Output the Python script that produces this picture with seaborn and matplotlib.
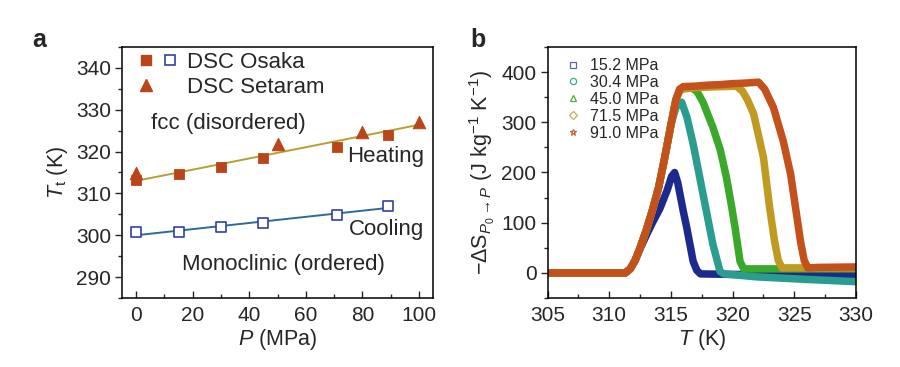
import numpy as np
import pandas as pd
import matplotlib
matplotlib.use('Agg')
import matplotlib.pyplot as plt
import seaborn as sns
from matplotlib.lines import Line2D
from matplotlib.legend_handler import HandlerTuple
from matplotlib.ticker import MultipleLocator

# ---- panel a: transition temperature vs pressure ----
osaka_heat_p = [0, 15, 30, 45, 71, 89]
osaka_heat_t = [313.3, 314.7, 316.2, 318.5, 321.2, 324.0]
setaram_heat_p = [0, 50, 80, 100]
setaram_heat_t = [314.9, 321.9, 324.7, 327.1]
osaka_cool_p = [0, 15, 30, 45, 71, 89]
osaka_cool_t = [300.8, 300.8, 302.0, 303.0, 304.8, 307.0]
heat_fit_p = [0, 100]
heat_fit_t = [313.0, 326.4]
cool_fit_p = [0, 90]
cool_fit_t = [300.0, 306.6]

# ---- panel b: entropy change curves ----
pressures = ['15.2 MPa', '30.4 MPa', '45.0 MPa', '71.5 MPa', '91.0 MPa']
t_152 = [304.5, 311.3, 311.7, 312.1, 312.5, 313.0, 313.5, 314.1, 314.7, 315.05, 315.3, 315.55, 316.0, 316.3, 316.8, 317.1, 317.4, 320, 325, 330.5]
s_152 = [0, 0, 8, 25, 48, 75, 100, 128, 165, 192, 200, 180, 123, 88, 23, 5, -2, -3, -4, -5]
t_304 = [304.5, 311.3, 311.7, 312.1, 312.5, 313.0, 313.5, 314.0, 314.5, 315.0, 315.4, 315.87, 316.3, 316.8, 317.6, 318.4, 318.98, 319.3, 322, 326, 330.5]
s_304 = [0, 0, 8, 25, 50, 85, 125, 170, 230, 295, 330, 340, 310, 257, 157, 57, 3, -2, -8, -13, -18]
t_450 = [304.5, 311.3, 311.7, 312.1, 312.5, 313.0, 313.5, 314.0, 314.5, 315.0, 315.4, 315.7, 316.0, 316.7, 317.1, 317.6, 318.4, 319.0, 319.5, 319.9, 320.2, 320.6, 320.9, 330.5]
s_450 = [0, 0, 8, 25, 50, 85, 125, 170, 230, 295, 345, 362, 367, 368, 362, 340, 290, 245, 190, 135, 90, 23, 8, 8]
t_715 = [304.5, 311.3, 311.7, 312.1, 312.5, 313.0, 313.5, 314.0, 314.5, 315.0, 315.4, 315.7, 316.0, 317, 318, 319, 320.3, 320.8, 321.2, 321.7, 322.5, 323.0, 323.4, 323.7, 324.0, 330.5]
s_715 = [0, 0, 8, 25, 50, 85, 125, 170, 230, 295, 345, 362, 367, 369, 370, 371, 372, 362, 345, 317, 230, 130, 63, 25, 10, 10]
t_910 = [304.5, 311.3, 311.7, 312.1, 312.5, 313.0, 313.5, 314.0, 314.5, 315.0, 315.4, 315.7, 316.0, 317, 318, 319, 320, 321, 322.1, 322.6, 323.3, 324.1, 324.7, 325.1, 325.5, 325.8, 326.1, 327, 330.5]
s_910 = [0, 0, 8, 25, 50, 85, 125, 170, 230, 295, 345, 366, 371, 372, 374, 375, 377, 378, 380, 366, 330, 263, 197, 130, 63, 25, 10, 11, 12]
curve_colors = ['#1c2a8e', '#2a9d8f', '#3aa828', '#c09a22', '#c4501c']
legend_colors = ['#5a6aa8', '#3aa8a0', '#4caf3a', '#d0a860', '#c8603a']
legend_markers = ['s', 'o', '^', 'D', '*']

sns.set_theme(style='ticks')
plt.rcParams['font.family'] = ['Liberation Sans', 'DejaVu Sans']
plt.rcParams['mathtext.fontset'] = 'custom'
plt.rcParams['mathtext.rm'] = 'Liberation Sans'
plt.rcParams['mathtext.it'] = 'Liberation Sans:italic'
plt.rcParams['axes.linewidth'] = 1.1

fig = plt.figure(figsize=(9, 3.67), dpi=100)
ax_a = fig.add_axes([0.1356, 0.188, 0.3456, 0.684])
ax_b = fig.add_axes([0.6084, 0.188, 0.3427, 0.684])

orange = '#b8461a'
blue_sq = '#3340a0'

sns.lineplot(x=heat_fit_p, y=heat_fit_t, ax=ax_a, color='#b8a030', linewidth=1.4)
sns.lineplot(x=cool_fit_p, y=cool_fit_t, ax=ax_a, color='#2b6c9a', linewidth=1.4)
sns.scatterplot(x=osaka_heat_p, y=osaka_heat_t, ax=ax_a, marker='s', s=55,
                color=orange, edgecolor=orange, zorder=3)
sns.scatterplot(x=setaram_heat_p, y=setaram_heat_t, ax=ax_a, marker='^', s=80,
                color=orange, edgecolor=orange, zorder=3)
sns.scatterplot(x=osaka_cool_p, y=osaka_cool_t, ax=ax_a, marker='s', s=55,
                facecolor='white', edgecolor=blue_sq, linewidth=1.2, zorder=3)

ax_a.set_xlim(-5, 105)
ax_a.set_ylim(285, 345)
ax_a.xaxis.set_major_locator(MultipleLocator(20))
ax_a.xaxis.set_minor_locator(MultipleLocator(10))
ax_a.yaxis.set_major_locator(MultipleLocator(10))
ax_a.yaxis.set_minor_locator(MultipleLocator(5))
ax_a.set_yticks([290, 300, 310, 320, 330, 340])
ax_a.set_xlabel(r'$P$ (MPa)', fontsize=15.5, labelpad=1)
ax_a.set_ylabel(r'$T_{\mathrm{t}}$ (K)', fontsize=15.5, labelpad=4)

ax_a.text(32.5, 326.6, 'fcc (disordered)', fontsize=16, ha='center', va='center')
ax_a.text(102, 318.9, 'Heating', fontsize=16, ha='right', va='center')
ax_a.text(102, 301.3, 'Cooling', fontsize=16, ha='right', va='center')
ax_a.text(52, 293.1, 'Monoclinic (ordered)', fontsize=16, ha='center', va='center')

h_fill = Line2D([], [], ls='none', marker='s', ms=7, color=orange)
h_open = Line2D([], [], ls='none', marker='s', ms=7, mfc='white', mec=blue_sq, mew=1.2)
h_tri = Line2D([], [], ls='none', marker='^', ms=8, color=orange)
h_none = Line2D([], [], ls='none')
ax_a.legend([(h_fill, h_open), (h_tri, h_none)], ['DSC Osaka', 'DSC Setaram'],
            handler_map={tuple: HandlerTuple(ndivide=None, pad=0.3)},
            loc='upper left', bbox_to_anchor=(0.005, 1.035), frameon=False, fontsize=16,
            handlelength=1.9, handletextpad=0.35, labelspacing=0.2, borderaxespad=0.2)

# panel b
frames = []
for lab, t, s in zip(pressures, [t_152, t_304, t_450, t_715, t_910],
                     [s_152, s_304, s_450, s_715, s_910]):
    frames.append(pd.DataFrame({'T': t, 'S': s, 'P': lab}))
curves = pd.concat(frames, ignore_index=True)
sns.lineplot(data=curves, x='T', y='S', hue='P', hue_order=pressures,
             palette=curve_colors, estimator=None, sort=False, linewidth=5.4,
             legend=False, ax=ax_b)
for line in ax_b.get_lines():
    line.set_solid_joinstyle('round')
    line.set_solid_capstyle('butt')

ax_b.set_xlim(305, 330)
ax_b.set_ylim(-50, 450)
ax_b.xaxis.set_major_locator(MultipleLocator(5))
ax_b.xaxis.set_minor_locator(MultipleLocator(2.5))
ax_b.yaxis.set_major_locator(MultipleLocator(100))
ax_b.yaxis.set_minor_locator(MultipleLocator(50))
ax_b.set_yticks([0, 100, 200, 300, 400])
ax_b.set_xlabel(r'$T$ (K)', fontsize=15.5, labelpad=1)
ax_b.set_ylabel(r'$-\Delta\mathrm{S}_{P_0\rightarrow P}$ (J kg$^{-1}$ K$^{-1}$)', fontsize=15.5, labelpad=3)

handles = [Line2D([], [], ls='none', marker=m, ms=4.5, mfc='none', mec=c, mew=0.9)
           for m, c in zip(legend_markers, legend_colors)]
ax_b.legend(handles, pressures, loc='upper left', bbox_to_anchor=(0.02, 1.0),
            frameon=False, fontsize=11.5, handlelength=1.0, handletextpad=0.6,
            labelspacing=0.12, borderaxespad=0.3)

for ax in (ax_a, ax_b):
    ax.tick_params(axis='x', which='both', direction='in', labelsize=15, pad=6)
    ax.tick_params(axis='y', which='both', direction='out', labelsize=15, pad=3)
    ax.tick_params(which='major', length=5, width=1)
    ax.tick_params(which='minor', length=3, width=1)
    for sp in ax.spines.values():
        sp.set_visible(True)
        sp.set_color('black')
    ax.tick_params(top=False, right=False)

fig.text(39 / 900, 1 - 40 / 367, 'a', fontsize=18, fontweight='bold', ha='center', va='center')
fig.text(478 / 900, 1 - 40 / 367, 'b', fontsize=18, fontweight='bold', ha='center', va='center')

fig.savefig('out.png', dpi=100)
